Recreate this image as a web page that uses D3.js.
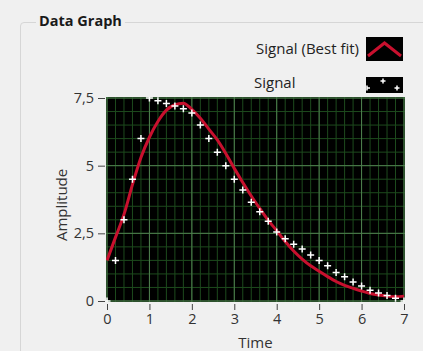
<!DOCTYPE html>
<html>
<head>
<meta charset="utf-8">
<script src="https://cdn.jsdelivr.net/npm/d3@7"></script>
<style>
  html, body { margin: 0; padding: 0; background: #f0f0f0; }
  svg { display: block; font-family: "Open Sans", "Noto Sans", sans-serif; }
</style>
</head>
<body>
<svg id="chart" width="423" height="351"></svg>
<script>
// Sample times (s)
const times = [0, 0.2, 0.4, 0.6, 0.8, 1.0, 1.2, 1.4, 1.6, 1.8, 2.0, 2.2, 2.4, 2.6, 2.8, 3.0,
  3.2, 3.4, 3.6, 3.8, 4.0, 4.2, 4.4, 4.6, 4.8, 5.0, 5.2, 5.4, 5.6, 5.8, 6.0, 6.2, 6.4, 6.6, 6.8, 7.0];
// Measured signal
const signal = [0, 1.5, 3.0, 4.5, 6.0, 7.5, 7.4, 7.3, 7.2, 7.1, 6.95, 6.5, 6.0, 5.5, 5.0, 4.5,
  4.1, 3.65, 3.3, 2.95, 2.55, 2.3, 2.1, 1.92, 1.7, 1.5, 1.3, 1.05, 0.9, 0.7, 0.55, 0.4, 0.3, 0.2, 0.1, 0.0];
// Best-fit curve evaluated at the same times
const bestFit = [1.5, 2.35, 3.2, 4.3, 5.3, 6.05, 6.63, 7.05, 7.25, 7.31, 7.08, 6.75, 6.35, 5.95, 5.45, 4.9,
  4.38, 3.88, 3.42, 2.98, 2.6, 2.2, 1.85, 1.55, 1.3, 1.1, 0.9, 0.72, 0.58, 0.47, 0.37, 0.28, 0.22, 0.18, 0.16, 0.18];
const xTicks = [0, 1, 2, 3, 4, 5, 6, 7];
const yTicks = [0, 2.5, 5, 7.5];
const xMinor = d3.range(0, 7.0001, 0.2);
const yMinor = d3.range(0, 7.5001, 0.5);
const legendLabels = ["Signal (Best fit)", "Signal"];

const svg = d3.select("#chart");
const fitColor = "#c8102e";
const labelSize = 15;

// group box
svg.append("rect").attr("x", 0).attr("y", 0).attr("width", 423).attr("height", 351).attr("fill", "#f0f0f0");
svg.append("path")
  .attr("d", "M20.5,360 L20.5,26 Q20.5,22.5 24,22.5 L430,22.5")
  .attr("fill", "none").attr("stroke", "#d6d6d6");
const title = svg.append("text").attr("x", 39).attr("y", 26)
  .attr("font-size", 14.5).attr("font-weight", "bold").attr("fill", "#1a1a1a").text("Data Graph");
const tb = title.node().getBBox();
svg.insert("rect", "text").attr("x", tb.x - 3).attr("y", 20).attr("width", tb.width + 6).attr("height", 5).attr("fill", "#f0f0f0");

// plot area
const x = d3.scaleLinear().domain([0, 7]).range([107, 404]);
const y = d3.scaleLinear().domain([0, 7.5]).range([301, 98]);

svg.append("rect").attr("x", 106).attr("y", 97).attr("width", 299).attr("height", 205).attr("fill", "#000");
svg.append("defs").append("clipPath").attr("id", "plotClip")
  .append("rect").attr("x", 106).attr("y", 97).attr("width", 299).attr("height", 205);

const grid = svg.append("g").attr("clip-path", "url(#plotClip)");
grid.selectAll(".vminor").data(xMinor).join("line")
  .attr("x1", d => x(d)).attr("x2", d => x(d)).attr("y1", 97).attr("y2", 302)
  .attr("stroke", "#1d4a1d").attr("stroke-width", 1);
grid.selectAll(".hminor").data(yMinor).join("line")
  .attr("y1", d => y(d)).attr("y2", d => y(d)).attr("x1", 106).attr("x2", 405)
  .attr("stroke", "#1d4a1d").attr("stroke-width", 1);
grid.selectAll(".vmajor").data(xTicks).join("line")
  .attr("x1", d => x(d)).attr("x2", d => x(d)).attr("y1", 97).attr("y2", 302)
  .attr("stroke", "#4f7f4f").attr("stroke-width", 1);
grid.selectAll(".hmajor").data(yTicks).join("line")
  .attr("y1", d => y(d)).attr("y2", d => y(d)).attr("x1", 106).attr("x2", 405)
  .attr("stroke", "#4f7f4f").attr("stroke-width", 1);

const marks = svg.append("g").attr("clip-path", "url(#plotClip)");
const line = d3.line().x((d, i) => x(times[i])).y(d => y(d)).curve(d3.curveMonotoneX);
marks.append("path").datum(bestFit).attr("d", line)
  .attr("fill", "none").attr("stroke", fitColor).attr("stroke-width", 3).attr("stroke-linejoin", "round");

function cross(sel, cx, cy, r) {
  sel.append("path")
    .attr("d", `M${cx - r},${cy}H${cx + r}M${cx},${cy - r}V${cy + r}`)
    .attr("stroke", "#fff").attr("stroke-width", 1.5).attr("fill", "none");
}
signal.forEach((v, i) => cross(marks, x(times[i]), y(v), 3.5));

// axes
const comma = d3.formatLocale({ decimal: ",", thousands: ".", grouping: [3], currency: ["", ""] }).format(".1~f");
const xAxis = svg.append("g").attr("transform", "translate(0,304)")
  .call(d3.axisBottom(x).tickValues(xTicks).tickSize(6).tickPadding(4).tickSizeOuter(0).tickFormat(d3.format("d")));
const yAxis = svg.append("g").attr("transform", "translate(105,0)")
  .call(d3.axisLeft(y).tickValues(yTicks).tickSize(7).tickPadding(4).tickSizeOuter(0).tickFormat(comma));
[xAxis, yAxis].forEach(a => {
  a.select(".domain").remove();
  a.selectAll("line").attr("stroke", "#444");
  a.selectAll("text").attr("font-size", 14.5).attr("fill", "#333").attr("font-family", "\"Open Sans\", sans-serif");
});

svg.append("text").attr("x", x(3.5)).attr("y", 348).attr("text-anchor", "middle")
  .attr("font-size", labelSize).attr("fill", "#333").text("Time");
svg.append("text").attr("transform", `translate(67,${y(3.55)}) rotate(-90)`).attr("text-anchor", "middle")
  .attr("font-size", labelSize).attr("fill", "#333").text("Amplitude");

// legend
const leg = svg.append("g");
leg.append("text").attr("x", 359).attr("y", 54).attr("text-anchor", "end")
  .attr("font-size", labelSize).attr("fill", "#222").text(legendLabels[0]);
leg.append("rect").attr("x", 366).attr("y", 37).attr("width", 37).attr("height", 24).attr("fill", "#000");
leg.append("path").attr("d", "M368,56 L384.5,43 L401,56")
  .attr("fill", "none").attr("stroke", fitColor).attr("stroke-width", 3);
leg.append("text").attr("x", 254).attr("y", 88)
  .attr("font-size", labelSize).attr("fill", "#222").text(legendLabels[1]);
leg.append("rect").attr("x", 366).attr("y", 77).attr("width", 37).attr("height", 16).attr("fill", "#000");
const lc = leg.append("g");
cross(lc, 383, 81, 2.5);
cross(lc, 397, 88, 2.5);
lc.append("path").attr("d", "M367,85.5V90.5M367,88H370").attr("stroke", "#fff").attr("stroke-width", 1.5);
</script>
</body>
</html>
